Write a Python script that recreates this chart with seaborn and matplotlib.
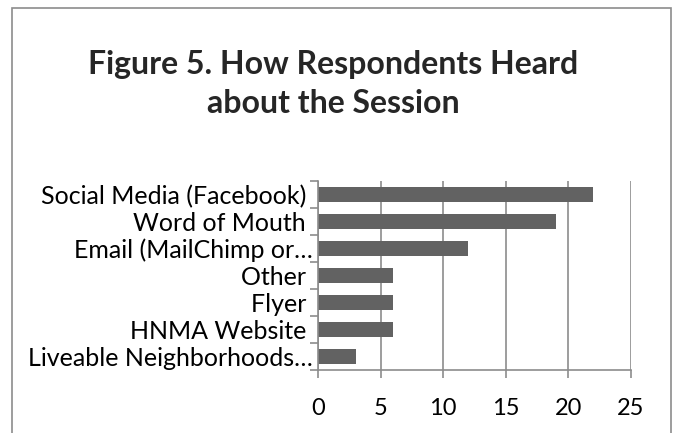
import matplotlib
matplotlib.use("Agg")
import matplotlib.pyplot as plt
import seaborn as sns
import pandas as pd
import numpy as np
from matplotlib.patches import Rectangle

categories = ["Social Media (Facebook) ", "Word of Mouth ", "Email (MailChimp or…",
              "Other ", "Flyer ", "HNMA Website ", "Liveable Neighborhoods…"]
values = [22, 19, 12, 6, 6, 6, 3]
xticks = [0, 5, 10, 15, 20, 25]

sns.set_theme(style="white")
plt.rcParams['font.family'] = ['Lato', 'DejaVu Sans']

df = pd.DataFrame({"cat": categories, "val": values})

fig = plt.figure(figsize=(6.81, 4.33), dpi=100)
ax = fig.add_axes([318/681, (433-370)/433, (631-318)/681, (370-181)/433])

sns.barplot(data=df, y="cat", x="val", orient="h", color="#626262",
            width=0.52, ax=ax, saturation=1)

for p in ax.patches:
    p.set_edgecolor("none")

ax.set_xlim(0, 25)
ax.set_ylim(len(categories) - 0.5, -0.5)
ax.set_xticks(xticks)
ax.set_xticklabels([str(t) for t in xticks], fontsize=17, color="black")
ax.xaxis.grid(True, color="#8c8c8c", linewidth=1.2)
ax.set_axisbelow(True)
ax.set_xlabel("")
ax.set_ylabel("")

ax.tick_params(axis="x", which="major", direction="out", length=6, width=1.2,
               color="#8c8c8c", pad=14, bottom=True)
ax.tick_params(axis="y", which="major", length=0, pad=4, labelsize=18, labelcolor="black")
ax.set_yticks(np.arange(-0.5, len(categories) + 0.5, 1), minor=True)
ax.tick_params(axis="y", which="minor", direction="out", length=6, width=1.2,
               color="#8c8c8c", left=True)

for s in ["top", "right"]:
    ax.spines[s].set_visible(False)
for s in ["left", "bottom"]:
    ax.spines[s].set_color("#8c8c8c")
    ax.spines[s].set_linewidth(1.2)

fig.text(333/681, 1 - 84/433, "Figure 5. How Respondents Heard\nabout the Session",
         ha="center", va="center", fontsize=23, fontweight="bold",
         linespacing=1.4)

# outer border
fig.patches.append(Rectangle((12/681, -0.05), (671-12)/681, (433-8)/433 + 0.05,
                             transform=fig.transFigure, fill=False,
                             edgecolor="#8c8c8c", linewidth=1.2))

fig.savefig("out.png", dpi=100)
